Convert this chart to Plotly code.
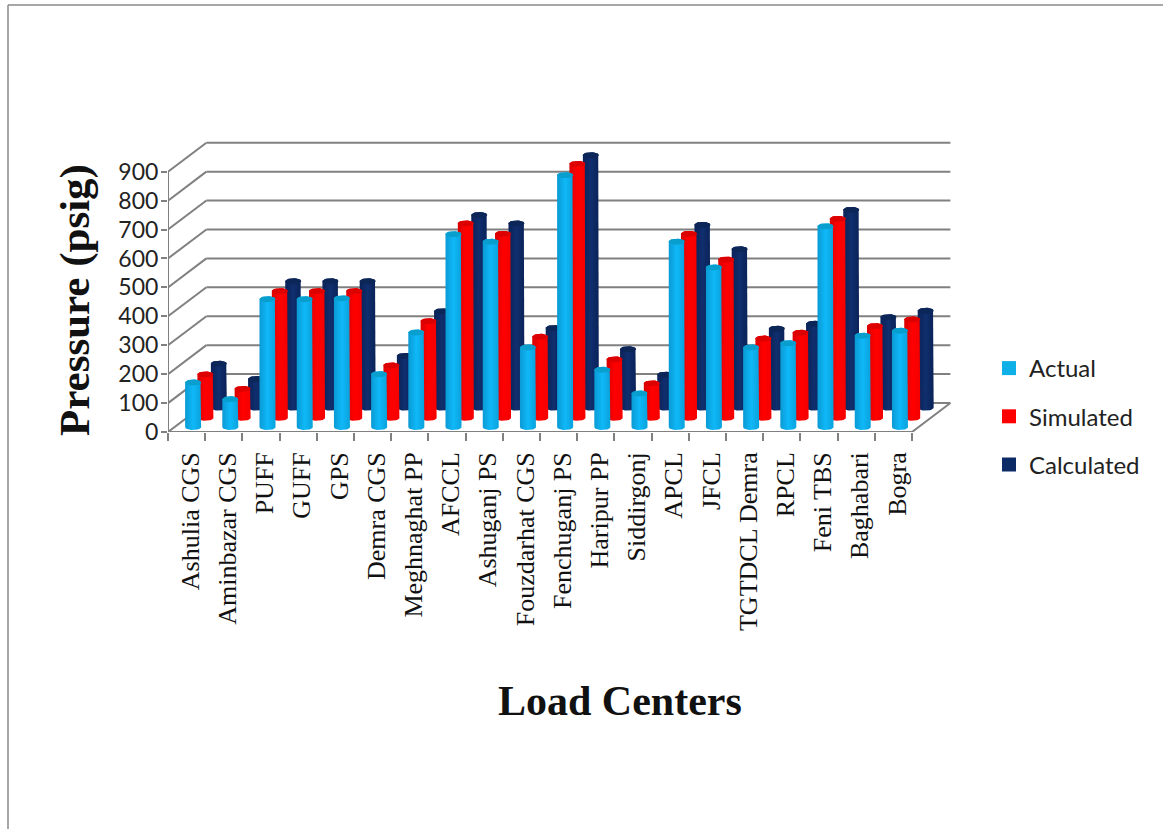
import numpy as np
import plotly.graph_objects as go

# Gas pressure at the load centers of the network
CENTERS = ["Ashulia CGS", "Aminbazar CGS", "PUFF", "GUFF", "GPS", "Demra CGS", "Meghnaghat PP",
           "AFCCL", "Ashuganj PS", "Fouzdarhat CGS", "Fenchuganj PS", "Haripur PP", "Siddirgonj",
           "APCL", "JFCL", "TGTDCL Demra", "RPCL", "Feni TBS", "Baghabari", "Bogra"]
ACTUAL = [154, 96, 442, 442, 445, 183, 327, 667, 641, 275, 871, 198, 116, 641, 552, 275, 290, 694, 316, 333]
SIMULATED = [150, 100, 438, 438, 438, 181, 334, 672, 636, 280, 878, 202, 119, 636, 547, 274, 294, 688, 317, 340]
CALCULATED = [152, 99, 437, 437, 437, 179, 333, 666, 637, 275, 873, 202, 114, 632, 548, 273, 290, 684, 313, 335]
PRESSURE_TICKS = list(range(0, 1000, 100))

WIDTH, HEIGHT = 1163, 829
LEFT, RIGHT, TOP, BOTTOM = 168, 968, 130, 432
PX_PER_CENTER = 37.2
PX_PER_PSIG = 0.2892

# Oblique depth of the box: one unit of depth moves a point this far along each axis
DEPTH_X = 38.4 / PX_PER_CENTER
DEPTH_Y = 29 / PX_PER_PSIG

BAR_HALF_W = 8 / PX_PER_CENTER
CAP_HALF_H = 3 / PX_PER_PSIG
GRID = "#808080"


def px_to_paper(px, py):
    return (px - LEFT) / (RIGHT - LEFT), (BOTTOM - py) / (BOTTOM - TOP)


def column_outline(cx, base, value):
    """Silhouette of an upright cylinder seen slightly from above."""
    low = np.linspace(np.pi, 2 * np.pi, 17)
    high = np.linspace(0, np.pi, 17)
    xs = np.r_[cx + BAR_HALF_W * np.cos(low), cx + BAR_HALF_W * np.cos(high)]
    ys = np.r_[base + CAP_HALF_H * np.sin(low), base + value + CAP_HALF_H * np.sin(high)]
    return xs, ys


def cap_outline(cx, top):
    t = np.linspace(0, 2 * np.pi, 33)
    return cx + BAR_HALF_W * np.cos(t), top + CAP_HALF_H * np.sin(t)


fig = go.Figure()

# Back wall, left wall and floor of the box
wall_x, wall_y = [], []
x0, x1 = -0.5, len(CENTERS) - 0.5
for tick in PRESSURE_TICKS:
    wall_x += [x0 + DEPTH_X, x1 + DEPTH_X, None, x0, x0 + DEPTH_X, None]
    wall_y += [tick + DEPTH_Y, tick + DEPTH_Y, None, tick, tick + DEPTH_Y, None]
wall_x += [x0, x0, None, x0, x1, x1 + DEPTH_X]
wall_y += [0, PRESSURE_TICKS[-1], None, 0, 0, DEPTH_Y]
fig.add_trace(go.Scatter(x=wall_x, y=wall_y, mode="lines", showlegend=False, hoverinfo="skip",
                         line=dict(color=GRID, width=2)))

# Rear series first so the nearer columns paint over them
SERIES = [
    ("Calculated", CALCULATED, 0.84, ["#0a2258", "#102f6e", "#0a2258"], "#0c2658", "#0c2a66"),
    ("Simulated", SIMULATED, 0.49, ["#d80000", "#ff0000", "#f40000"], "#dc0000", "#ff0000"),
    ("Actual", ACTUAL, 0.17, ["#0a9ad4", "#0fb8f8", "#0aa2dc"], "#089fcf", "#0fb0e8"),
]
for name, values, depth, shades, cap_color, _ in SERIES:
    cap_x, cap_y = [], []
    for i, value in enumerate(values):
        cx = i + depth * DEPTH_X
        base = depth * DEPTH_Y
        xs, ys = column_outline(cx, base, value)
        fig.add_trace(go.Scatter(
            x=xs, y=ys, mode="lines", fill="toself", line=dict(width=0),
            fillgradient=dict(type="horizontal",
                              colorscale=[[0, shades[0]], [0.5, shades[1]], [1, shades[2]]]),
            showlegend=False, name=name, text=f"{CENTERS[i]}: {value}", hoverinfo="text"))
        cxs, cys = cap_outline(cx, base + value)
        cap_x += list(cxs) + [None]
        cap_y += list(cys) + [None]
    fig.add_trace(go.Scatter(x=cap_x, y=cap_y, mode="lines", fill="toself", showlegend=False,
                             fillcolor=cap_color, line=dict(width=0), hoverinfo="skip"))

# Legend keys in reading order
for name, _, _, _, _, key_color in SERIES[::-1]:
    fig.add_trace(go.Scatter(x=[None], y=[None], mode="markers", name=name, legendgroup=name,
                             marker=dict(symbol="square", size=14, color=key_color)))

title_x, title_y = px_to_paper(620, 701)
ylabel_x, ylabel_y = px_to_paper(75, 300)
legend_x, legend_y = px_to_paper(989, 346)
frame_left = px_to_paper(8, 0)[0]
frame_right = px_to_paper(1163, 0)[0]
frame_top = px_to_paper(0, 5)[1]
frame_bottom = px_to_paper(0, 829)[1]

fig.update_layout(
    width=WIDTH, height=HEIGHT, autosize=False,
    margin=dict(l=LEFT, r=WIDTH - RIGHT, t=TOP, b=HEIGHT - BOTTOM),
    paper_bgcolor="white", plot_bgcolor="rgba(0,0,0,0)",
    xaxis=dict(range=[x0, x0 + (RIGHT - LEFT) / PX_PER_CENTER], showgrid=False, zeroline=False,
               showline=False, tickmode="array", tickvals=[i + 0.1 for i in range(len(CENTERS))],
               ticktext=CENTERS, tickangle=-90, ticks="", ticklabelstandoff=14,
               tickfont=dict(family="Liberation Serif", size=26, color="#111111"),
               minor=dict(tickmode="array", tickvals=[x0 + i for i in range(len(CENTERS) + 1)],
                          ticks="outside", ticklen=8, tickwidth=2, tickcolor=GRID)),
    yaxis=dict(range=[0, (BOTTOM - TOP) / PX_PER_PSIG], showgrid=False, zeroline=False,
               showline=False, tickmode="array", tickvals=PRESSURE_TICKS, ticks="outside",
               ticklen=6, tickwidth=2, tickcolor=GRID, ticklabelstandoff=-2,
               tickfont=dict(family="Lato", size=23, color="#222222")),
    legend=dict(x=legend_x, y=legend_y, xanchor="left", yanchor="top", tracegroupgap=14,
                bgcolor="rgba(0,0,0,0)", font=dict(family="Lato", size=24, color="#222222")),
    annotations=[
        dict(text="<b>Load Centers</b>", xref="paper", yref="paper", x=title_x, y=title_y,
             xanchor="center", yanchor="middle", showarrow=False,
             font=dict(family="Liberation Serif", size=42, color="#111111")),
        dict(text="<b>Pressure (psig)</b>", xref="paper", yref="paper", x=ylabel_x, y=ylabel_y,
             xanchor="center", yanchor="middle", textangle=-90, showarrow=False,
             font=dict(family="Liberation Serif", size=43, color="#111111")),
    ],
    shapes=[
        dict(type="line", xref="paper", yref="paper", x0=frame_left, x1=frame_left,
             y0=frame_top, y1=frame_bottom, line=dict(color="#8a8a8a", width=1.5)),
        dict(type="line", xref="paper", yref="paper", x0=frame_left, x1=frame_right,
             y0=frame_top, y1=frame_top, line=dict(color="#8a8a8a", width=1.5)),
    ],
)

fig.write_html("out.html")
